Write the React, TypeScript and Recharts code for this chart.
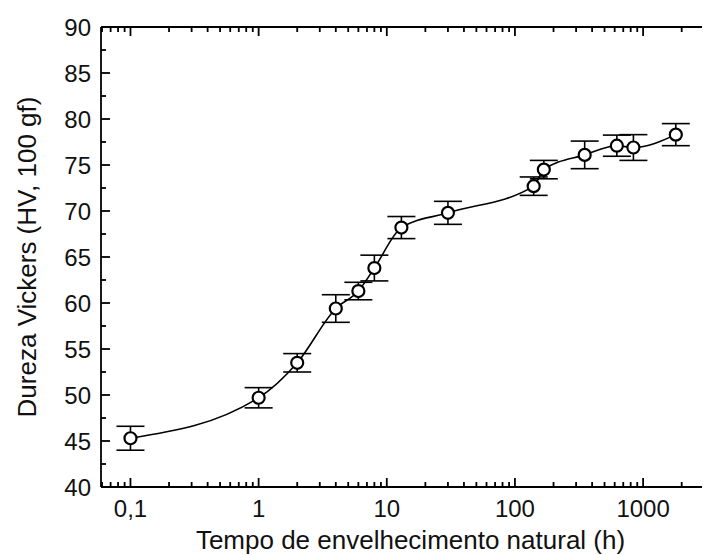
import React from 'react';
import { ComposedChart, Line, XAxis, YAxis, ErrorBar } from 'recharts';

const agingTimes = [0.1, 1, 2, 4, 6, 8, 13, 30, 140, 168, 350, 624, 840, 1800];
const hardness = [45.3, 49.7, 53.5, 59.4, 61.3, 63.8, 68.2, 69.8, 72.7, 74.5, 76.1, 77.1, 76.9, 78.3];
const hardnessError = [1.3, 1.1, 1.0, 1.5, 0.95, 1.4, 1.2, 1.25, 1.0, 1.0, 1.5, 1.15, 1.4, 1.2];

const xMajorTicks = [0.1, 1, 10, 100, 1000];
const xTickLabels = ['0,1', '1', '10', '100', '1000'];
const xMinorTicks = [
  0.06, 0.07, 0.08, 0.09,
  0.2, 0.3, 0.4, 0.5, 0.6, 0.7, 0.8, 0.9,
  2, 3, 4, 5, 6, 7, 8, 9,
  20, 30, 40, 50, 60, 70, 80, 90,
  200, 300, 400, 500, 600, 700, 800, 900,
  2000, 3000,
];
const yMajorTicks = [40, 45, 50, 55, 60, 65, 70, 75, 80, 85, 90];
const yMinorTicks = [42.5, 47.5, 52.5, 57.5, 62.5, 67.5, 72.5, 77.5, 82.5, 87.5];

const xTitle = 'Tempo de envelhecimento natural (h)';
const yTitle = 'Dureza Vickers (HV, 100 gf)';

const data = agingTimes.map((t, i) => ({ t, hv: hardness[i], err: hardnessError[i] }));
const xAllTicks = [...xMajorTicks, ...xMinorTicks].sort((a, b) => a - b);
const yAllTicks = [...yMajorTicks, ...yMinorTicks].sort((a, b) => a - b);

const FONT = '"Liberation Sans", Arial, sans-serif';
const INK = '#111';
const TICK_W = 1.8;
const MAJOR_LEN = 9;
const MINOR_LEN = 5;

const BottomTick = (props: any) => {
  const { x, y, payload } = props;
  const idx = xMajorTicks.indexOf(payload.value);
  const major = idx >= 0;
  return (
    <g>
      <path d={`M${x},${y}V${y - (major ? MAJOR_LEN : MINOR_LEN)}`} stroke="#000" strokeWidth={TICK_W} fill="none" />
      {major && (
        <text x={x} y={y + 21} textAnchor="middle" dominantBaseline="central" fontFamily={FONT} fontSize={24} fill={INK}>
          {xTickLabels[idx]}
        </text>
      )}
    </g>
  );
};

const TopTick = (props: any) => {
  const { x, y, payload } = props;
  const major = xMajorTicks.indexOf(payload.value) >= 0;
  return <path d={`M${x},${y}V${y + (major ? MAJOR_LEN : MINOR_LEN)}`} stroke="#000" strokeWidth={TICK_W} fill="none" />;
};

const LeftTick = (props: any) => {
  const { x, y, payload } = props;
  const major = yMajorTicks.indexOf(payload.value) >= 0;
  return (
    <g>
      <path d={`M${x},${y}H${x + (major ? MAJOR_LEN : MINOR_LEN)}`} stroke="#000" strokeWidth={TICK_W} fill="none" />
      {major && (
        <text x={x - 10} y={y} textAnchor="end" dominantBaseline="central" fontFamily={FONT} fontSize={24} fill={INK}>
          {payload.value}
        </text>
      )}
    </g>
  );
};

const XTitle = (props: any) => {
  const vb = props.viewBox;
  return (
    <text x={vb.x + vb.width / 2} y={vb.y + 53} textAnchor="middle" dominantBaseline="central" fontFamily={FONT} fontSize={26} fill={INK}>
      {xTitle}
    </text>
  );
};

const YTitle = (props: any) => {
  const vb = props.viewBox;
  const cx = vb.x + 19;
  const cy = vb.y + vb.height / 2;
  return (
    <text x={cx} y={cy} transform={`rotate(-90 ${cx} ${cy})`} textAnchor="middle" dominantBaseline="central" fontFamily={FONT} fontSize={26} fill={INK}>
      {yTitle}
    </text>
  );
};

const X_MIN = Math.pow(10, -1.23);
const X_MAX = Math.pow(10, 3.6);

export default function App() {
  return (
    <div style={{ width: 702, height: 547, overflow: 'hidden', background: '#fff' }}>
      <ComposedChart width={730} height={547} data={data} margin={{ top: 0, right: 18, bottom: 0, left: 0 }}>
        <XAxis
          xAxisId="top"
          orientation="top"
          dataKey="t"
          type="number"
          scale="log"
          domain={[X_MIN, X_MAX]}
          allowDataOverflow
          ticks={xAllTicks}
          interval={0}
          tickSize={0}
          tickMargin={0}
          tickLine={false}
          tick={<TopTick />}
          height={19}
          axisLine={{ stroke: '#000', strokeWidth: 1.8 }}
        />
        <XAxis
          dataKey="t"
          type="number"
          scale="log"
          domain={[X_MIN, X_MAX]}
          allowDataOverflow
          ticks={xAllTicks}
          interval={0}
          tickSize={0}
          tickMargin={0}
          tickLine={false}
          tick={<BottomTick />}
          height={68}
          axisLine={{ stroke: '#000', strokeWidth: 1.8 }}
          label={XTitle}
        />
        <YAxis
          type="number"
          domain={[40, 90]}
          allowDataOverflow
          ticks={yAllTicks}
          interval={0}
          tickSize={0}
          tickMargin={0}
          tickLine={false}
          tick={<LeftTick />}
          width={93}
          axisLine={{ stroke: '#000', strokeWidth: 1.8 }}
          label={YTitle}
        />
        <Line
          xAxisId="top"
          dataKey="hv"
          stroke="none"
          dot={false}
          activeDot={false}
          isAnimationActive={false}
          legendType="none"
        />
        <Line
          dataKey="hv"
          type="monotone"
          stroke="#000"
          strokeWidth={1.6}
          isAnimationActive={false}
          dot={{ r: 6, fill: '#fff', stroke: '#000', strokeWidth: 2.2 }}
          activeDot={false}
        >
          <ErrorBar dataKey="err" direction="y" width={14} stroke="#000" strokeWidth={1.6} isAnimationActive={false} />
        </Line>
      </ComposedChart>
    </div>
  );
}
